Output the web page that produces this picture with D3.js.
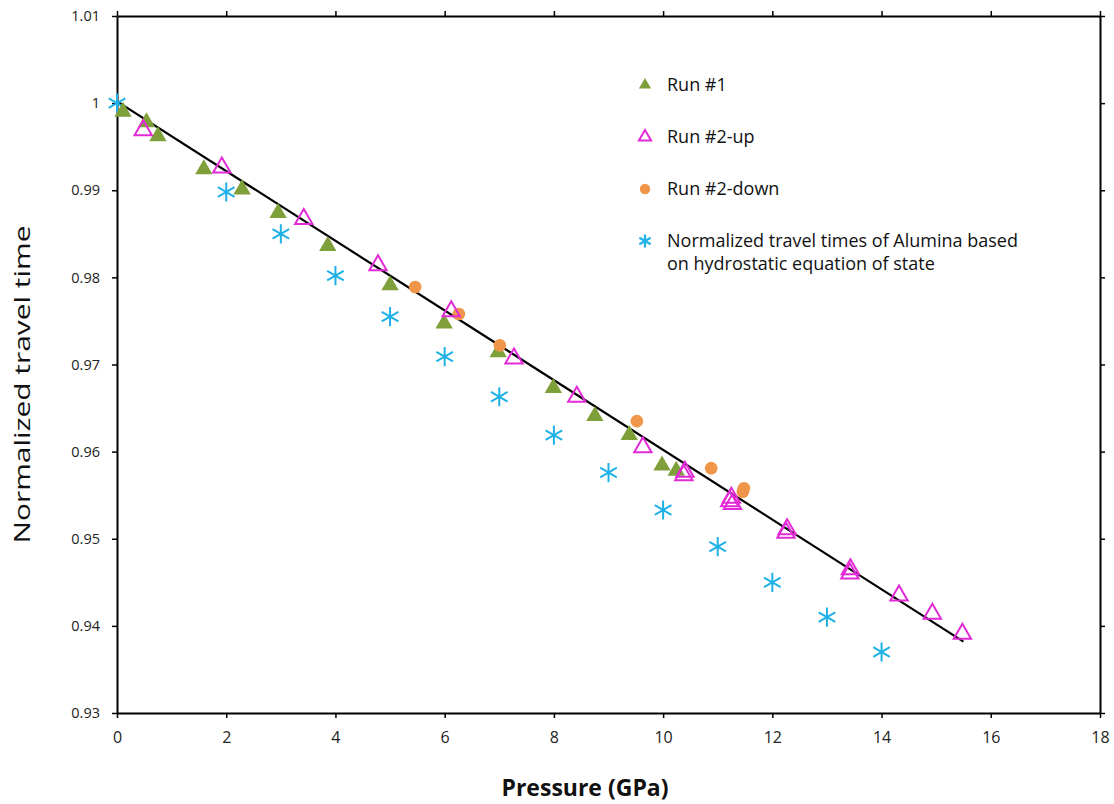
<!DOCTYPE html>
<html>
<head>
<meta charset="utf-8">
<script src="https://cdn.jsdelivr.net/npm/d3@7"></script>
<style>
  body { margin: 0; background: #fff; }
  text { font-family: "Open Sans", "Noto Sans", sans-serif; }
</style>
</head>
<body>
<svg id="chart" width="1114" height="804"></svg>
<script>
// Run #1 (filled green triangles)
var run1P = [0.11, 0.54, 0.75, 1.59, 2.29, 2.95, 3.86, 5.0, 5.99, 6.98, 7.99, 8.75, 9.38, 9.98, 10.24];
var run1T = [0.9990, 0.9978, 0.9962, 0.9924, 0.9901, 0.9874, 0.9836, 0.9791, 0.9747, 0.9714, 0.9673, 0.9641, 0.9619, 0.9584, 0.9578];

// Run #2-up (open magenta triangles)
var run2upP = [0.48, 1.92, 3.42, 4.78, 6.12, 7.27, 8.42, 9.63, 10.38, 10.40, 11.22, 11.25, 11.27, 12.25, 12.27, 13.42, 13.43, 14.32, 14.93, 15.48];
var run2upT = [0.9969, 0.9926, 0.9867, 0.9814, 0.9761, 0.9707, 0.9663, 0.9605, 0.9573, 0.9577, 0.9543, 0.9547, 0.9540, 0.9507, 0.9511, 0.9460, 0.9465, 0.9435, 0.9414, 0.9391];

// Run #2-down (orange circles)
var run2downP = [5.46, 6.26, 7.01, 9.52, 10.88, 11.48, 11.46];
var run2downT = [0.9789, 0.9758, 0.9722, 0.9635, 0.9581, 0.9558, 0.9554];

// hydrostatic EOS (cyan asterisks)
var eosP = [0, 2, 3, 4, 5, 6, 7, 8, 9, 10, 11, 12, 13, 14];
var eosT = [1.0000, 0.9898, 0.9850, 0.9802, 0.9755, 0.9709, 0.9663, 0.9619, 0.9576, 0.9533, 0.9491, 0.9450, 0.9410, 0.9370];

// linear fit
var fitP = [0, 15.5];
var fitT = [1.0002, 0.9382];

var xTicks = [0, 2, 4, 6, 8, 10, 12, 14, 16, 18];
var yTicks = [0.93, 0.94, 0.95, 0.96, 0.97, 0.98, 0.99, 1, 1.01];

var legendNames = ["Run #1", "Run #2-up", "Run #2-down", "Normalized travel times of Alumina based|on hydrostatic equation of state"];

var svg = d3.select("#chart"),
  margin = {top: 16, right: 14, bottom: 91, left: 117},
  width = 1114 - margin.left - margin.right,
  height = 804 - margin.top - margin.bottom,
  g = svg.append("g").attr("transform", "translate(" + margin.left + "," + margin.top + ")");

var x = d3.scaleLinear().domain([0, 18]).range([0, width]);
var y = d3.scaleLinear().domain([0.93, 1.01]).range([height, 0]);

var green = "#7f9f3a", magenta = "#e22ad6", orange = "#f0964a", cyan = "#1fb1e6";

// axes
function styleAxis(sel) {
  sel.select(".domain").attr("stroke", "#000").attr("stroke-width", 2);
  sel.selectAll(".tick line").attr("stroke", "#000").attr("stroke-width", 1.5);
}

var xb = g.append("g")
  .attr("transform", "translate(0," + height + ")")
  .call(d3.axisBottom(x).tickValues(xTicks).tickSize(5).tickSizeOuter(0).tickPadding(14).tickFormat(d3.format("d")));
styleAxis(xb);
xb.selectAll(".tick text").attr("font-size", 16).attr("fill", "#222")
  .attr("font-family", "'Liberation Sans Narrow', 'Open Sans', sans-serif");

var xt = g.append("g")
  .call(d3.axisTop(x).tickValues(xTicks).tickSize(5).tickSizeOuter(0).tickFormat(""));
styleAxis(xt);

var yl = g.append("g")
  .call(d3.axisLeft(y).tickValues(yTicks).tickSize(5).tickSizeOuter(0).tickPadding(12).tickFormat(function(d) { return d === 1 ? "1" : d3.format(".2f")(d); }));
styleAxis(yl);
yl.selectAll(".tick text").attr("font-size", 14.5).attr("fill", "#222")
  .attr("font-family", "'DejaVu Sans', sans-serif");

var yr = g.append("g")
  .attr("transform", "translate(" + width + ",0)")
  .call(d3.axisRight(y).tickValues(yTicks).tickSize(5).tickSizeOuter(0).tickFormat(""));
styleAxis(yr);

// fit line
var line = d3.line()
  .x(function(d) { return x(d[0]); })
  .y(function(d) { return y(d[1]); });

g.append("path")
  .datum(d3.zip(fitP, fitT))
  .attr("fill", "none")
  .attr("stroke", "#000")
  .attr("stroke-width", 2.2)
  .attr("d", line);

var triSym = d3.symbol().type(d3.symbolTriangle).size(130);
var circSym = d3.symbol().type(d3.symbolCircle).size(125);
var starSym = d3.symbol().type(d3.symbolAsterisk).size(260);

// EOS asterisks
g.selectAll(".eos")
  .data(d3.zip(eosP, eosT))
  .enter().append("path")
  .attr("transform", function(d) { return "translate(" + x(d[0]) + "," + y(d[1]) + ")"; })
  .attr("d", starSym)
  .attr("fill", "none")
  .attr("stroke", cyan)
  .attr("stroke-width", 2);

// run 1
g.selectAll(".r1")
  .data(d3.zip(run1P, run1T))
  .enter().append("path")
  .attr("transform", function(d) { return "translate(" + x(d[0]) + "," + y(d[1]) + ")"; })
  .attr("d", triSym)
  .attr("fill", green);

// run 2 down
g.selectAll(".r2d")
  .data(d3.zip(run2downP, run2downT))
  .enter().append("path")
  .attr("transform", function(d) { return "translate(" + x(d[0]) + "," + y(d[1]) + ")"; })
  .attr("d", circSym)
  .attr("fill", orange);

// run 2 up
g.selectAll(".r2u")
  .data(d3.zip(run2upP, run2upT))
  .enter().append("path")
  .attr("transform", function(d) { return "translate(" + x(d[0]) + "," + y(d[1]) + ")"; })
  .attr("d", triSym)
  .attr("fill", "none")
  .attr("stroke", magenta)
  .attr("stroke-width", 2);

// legend
var lg = svg.append("g").attr("transform", "translate(645,85)");
var rowY = [0, 52, 104, 156];
var legMarks = [
  function(s) { s.attr("d", d3.symbol().type(d3.symbolTriangle).size(65)).attr("fill", green); },
  function(s) { s.attr("d", d3.symbol().type(d3.symbolTriangle).size(65)).attr("fill", "none").attr("stroke", magenta).attr("stroke-width", 2); },
  function(s) { s.attr("d", d3.symbol().type(d3.symbolCircle).size(85)).attr("fill", orange); },
  function(s) { s.attr("d", d3.symbol().type(d3.symbolAsterisk).size(120)).attr("fill", "none").attr("stroke", cyan).attr("stroke-width", 2.2); }
];
legendNames.forEach(function(name, i) {
  var m = lg.append("path").attr("transform", "translate(0," + rowY[i] + ")");
  legMarks[i](m);
  name.split("|").forEach(function(part, k) {
    lg.append("text")
      .attr("x", 22)
      .attr("y", rowY[i] + 6 + k * 23)
      .attr("font-size", 18)
      .attr("fill", "#111")
      .text(part);
  });
});

// axis titles
svg.append("text")
  .attr("transform", "translate(30," + (margin.top + height / 2 + 20) + ") rotate(-90)")
  .attr("text-anchor", "middle")
  .attr("font-size", 22)
  .attr("textLength", 318)
  .attr("lengthAdjust", "spacingAndGlyphs")
  .attr("fill", "#111")
  .text("Normalized  travel time");

svg.append("text")
  .attr("x", 585)
  .attr("y", 796)
  .attr("text-anchor", "middle")
  .attr("font-size", 23)
  .attr("font-weight", "bold")
  .attr("fill", "#111")
  .text("Pressure (GPa)");
</script>
</body>
</html>
